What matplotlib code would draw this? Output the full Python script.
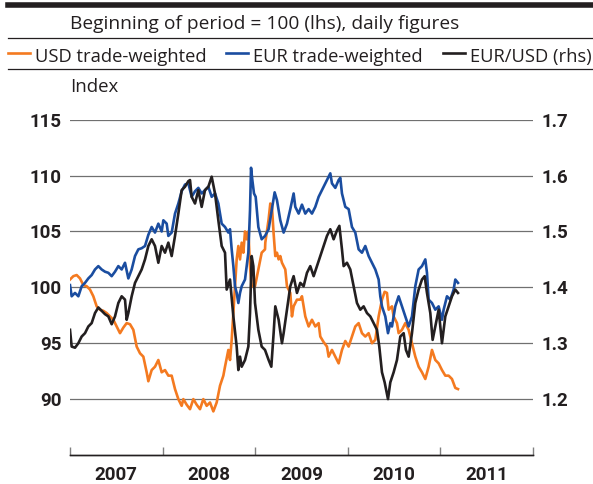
import matplotlib
matplotlib.use("Agg")
import matplotlib.pyplot as plt
from matplotlib.lines import Line2D
from matplotlib.ticker import FixedLocator, NullFormatter, FixedFormatter
import numpy as np

plt.rcParams['font.family'] = ['Roboto', 'DejaVu Sans']
HEAD_FONT = ['Open Sans', 'DejaVu Sans']

# ---- data (decimal years) ----
usd_t = [0.000, 0.036, 0.072, 0.108, 0.144, 0.180, 0.216, 0.252, 0.288, 0.324, 0.360, 0.396,
         0.432, 0.468, 0.504, 0.540, 0.576, 0.612, 0.648, 0.684, 0.720, 0.756, 0.792, 0.828,
         0.846, 0.882, 0.918, 0.954, 0.990, 1.026, 1.062, 1.098, 1.134, 1.170, 1.206, 1.224,
         1.260, 1.296, 1.332, 1.368, 1.404, 1.440, 1.476, 1.512, 1.548, 1.584, 1.620, 1.656,
         1.674, 1.710, 1.728, 1.746, 1.764, 1.782, 1.800, 1.818, 1.836, 1.854, 1.872, 1.890,
         1.908, 1.926, 1.944, 1.962, 1.998, 2.034, 2.070, 2.106, 2.109, 2.145, 2.163, 2.181,
         2.199, 2.217, 2.235, 2.253, 2.271, 2.289, 2.325, 2.343, 2.379, 2.397, 2.415, 2.451,
         2.487, 2.505, 2.541, 2.577, 2.613, 2.649, 2.685, 2.703, 2.739, 2.775, 2.793, 2.829,
         2.865, 2.901, 2.937, 2.973, 3.009, 3.045, 3.081, 3.117, 3.153, 3.189, 3.225, 3.261,
         3.297, 3.333, 3.369, 3.398, 3.423, 3.441, 3.477, 3.495, 3.531, 3.549, 3.585, 3.621,
         3.657, 3.693, 3.729, 3.765, 3.801, 3.837, 3.873, 3.909, 3.945, 3.981, 4.017, 4.053,
         4.089, 4.125, 4.161, 4.190]
usd_v = [100.7, 101.0, 101.1, 100.8, 100.2, 100.1, 99.8, 99.2, 98.3, 98.0, 97.9, 97.7,
         97.4, 97.1, 96.5, 95.9, 96.4, 96.8, 96.7, 96.2, 94.7, 94.1, 93.8, 92.4,
         91.6, 92.6, 92.9, 93.5, 92.4, 92.6, 92.1, 92.1, 90.9, 90.0, 89.4, 90.0,
         89.5, 89.1, 90.0, 89.5, 89.1, 90.0, 89.4, 89.7, 88.9, 89.7, 91.2, 92.1,
         92.9, 94.4, 93.5, 95.3, 97.7, 100.1, 102.5, 103.7, 102.5, 104.0, 103.1, 105.0,
         104.3, 105.0, 101.9, 100.1, 100.1, 101.6, 103.1, 103.4, 104.0, 106.1, 107.5, 107.2,
         104.8, 102.8, 103.1, 102.5, 102.8, 102.2, 101.6, 100.1, 99.5, 97.4, 98.3, 98.9,
         98.9, 99.2, 97.4, 96.5, 97.1, 96.5, 96.8, 95.6, 95.1, 94.7, 93.8, 94.4,
         93.8, 93.2, 94.4, 95.2, 94.7, 95.6, 96.5, 96.8, 95.9, 95.6, 95.9, 95.0,
         95.3, 97.4, 98.9, 99.6, 99.5, 98.0, 98.3, 97.4, 96.8, 95.9, 96.2, 96.8,
         96.2, 95.0, 93.8, 92.9, 92.4, 91.8, 92.9, 94.4, 93.5, 93.2, 92.6, 92.1,
         92.1, 91.8, 91.0, 90.9]

eur_t = [0.000, 0.018, 0.054, 0.090, 0.126, 0.162, 0.198, 0.234, 0.270, 0.306, 0.342, 0.378,
         0.414, 0.450, 0.486, 0.522, 0.558, 0.594, 0.630, 0.666, 0.702, 0.738, 0.774, 0.810,
         0.846, 0.882, 0.918, 0.954, 0.990, 1.008, 1.044, 1.062, 1.098, 1.134, 1.170, 1.206,
         1.242, 1.278, 1.314, 1.350, 1.386, 1.422, 1.458, 1.494, 1.530, 1.566, 1.602, 1.638,
         1.674, 1.710, 1.728, 1.746, 1.764, 1.782, 1.800, 1.818, 1.836, 1.854, 1.890, 1.908,
         1.926, 1.944, 1.955, 1.969, 1.987, 2.005, 2.034, 2.070, 2.106, 2.145, 2.181, 2.210,
         2.235, 2.271, 2.307, 2.343, 2.379, 2.415, 2.433, 2.469, 2.505, 2.541, 2.577, 2.613,
         2.649, 2.685, 2.721, 2.757, 2.793, 2.811, 2.829, 2.865, 2.901, 2.919, 2.937, 2.973,
         3.009, 3.045, 3.081, 3.117, 3.153, 3.189, 3.225, 3.261, 3.297, 3.333, 3.351, 3.369,
         3.405, 3.434, 3.459, 3.477, 3.513, 3.549, 3.585, 3.621, 3.657, 3.693, 3.729, 3.765,
         3.801, 3.837, 3.855, 3.873, 3.909, 3.945, 3.981, 4.017, 4.035, 4.071, 4.107, 4.143,
         4.161, 4.190]
eur_v = [100.2, 99.2, 99.5, 99.2, 100.1, 100.4, 100.8, 101.1, 101.6, 101.9, 101.6, 101.4,
         101.3, 101.0, 101.4, 101.9, 101.6, 102.2, 100.8, 101.6, 102.8, 103.4, 103.5, 103.7,
         104.7, 105.4, 104.9, 105.7, 105.0, 106.0, 105.7, 104.6, 104.9, 106.6, 107.5, 108.6,
         109.2, 109.3, 108.1, 108.6, 108.9, 108.4, 108.7, 109.0, 108.1, 108.4, 107.5, 105.7,
         105.4, 104.9, 105.2, 103.4, 101.9, 100.1, 99.5, 98.6, 99.5, 100.1, 100.7, 101.9,
         103.1, 106.9, 110.7, 109.6, 108.4, 108.1, 105.4, 104.3, 104.6, 105.2, 107.0, 108.5,
         107.8, 106.0, 104.9, 105.7, 107.0, 108.4, 107.2, 106.6, 107.4, 106.6, 107.0, 106.6,
         107.2, 108.1, 108.7, 109.3, 109.9, 110.2, 109.3, 108.9, 109.6, 109.8, 108.4, 107.2,
         107.0, 105.4, 104.9, 103.4, 103.1, 103.7, 102.8, 102.2, 101.6, 100.7, 99.2, 98.3,
         97.4, 95.9, 96.8, 96.5, 98.3, 99.2, 98.3, 97.4, 96.5, 97.4, 100.1, 101.6,
         101.9, 102.5, 101.3, 98.9, 98.6, 98.0, 98.3, 97.1, 98.0, 99.2, 98.9, 99.8,
         100.7, 100.4]

eurusd_t = [0.000, 0.018, 0.054, 0.090, 0.126, 0.162, 0.198, 0.234, 0.270, 0.306, 0.342, 0.378,
            0.414, 0.450, 0.486, 0.522, 0.558, 0.594, 0.612, 0.630, 0.666, 0.702, 0.738, 0.774,
            0.810, 0.846, 0.882, 0.918, 0.954, 0.990, 1.026, 1.062, 1.098, 1.134, 1.170, 1.206,
            1.242, 1.278, 1.296, 1.314, 1.350, 1.386, 1.422, 1.458, 1.494, 1.530, 1.566, 1.602,
            1.638, 1.674, 1.692, 1.728, 1.764, 1.800, 1.818, 1.836, 1.854, 1.890, 1.926, 1.944,
            1.962, 1.980, 1.998, 2.034, 2.070, 2.106, 2.145, 2.174, 2.199, 2.217, 2.253, 2.289,
            2.307, 2.343, 2.379, 2.415, 2.451, 2.487, 2.523, 2.559, 2.595, 2.631, 2.667, 2.703,
            2.739, 2.775, 2.811, 2.847, 2.883, 2.909, 2.937, 2.955, 2.991, 3.027, 3.063, 3.099,
            3.135, 3.171, 3.207, 3.243, 3.279, 3.315, 3.340, 3.369, 3.398, 3.434, 3.459, 3.495,
            3.531, 3.567, 3.603, 3.628, 3.657, 3.693, 3.729, 3.765, 3.801, 3.830, 3.855, 3.891,
            3.916, 3.945, 3.981, 4.017, 4.053, 4.089, 4.125, 4.161, 4.190]
eurusd_v = [1.324, 1.294, 1.292, 1.300, 1.312, 1.318, 1.330, 1.336, 1.354, 1.364, 1.358, 1.352,
            1.348, 1.334, 1.348, 1.372, 1.384, 1.378, 1.342, 1.354, 1.384, 1.408, 1.420, 1.432,
            1.450, 1.474, 1.486, 1.474, 1.444, 1.474, 1.462, 1.480, 1.456, 1.492, 1.532, 1.574,
            1.580, 1.590, 1.592, 1.562, 1.550, 1.574, 1.544, 1.574, 1.580, 1.598, 1.568, 1.520,
            1.474, 1.462, 1.396, 1.414, 1.348, 1.294, 1.252, 1.276, 1.258, 1.270, 1.294, 1.354,
            1.456, 1.438, 1.372, 1.324, 1.294, 1.288, 1.270, 1.258, 1.318, 1.366, 1.342, 1.300,
            1.318, 1.360, 1.402, 1.420, 1.390, 1.408, 1.402, 1.426, 1.438, 1.420, 1.438, 1.456,
            1.474, 1.492, 1.504, 1.486, 1.502, 1.510, 1.468, 1.438, 1.444, 1.432, 1.402, 1.372,
            1.360, 1.366, 1.354, 1.348, 1.336, 1.324, 1.294, 1.248, 1.230, 1.200, 1.230, 1.248,
            1.270, 1.312, 1.318, 1.288, 1.276, 1.318, 1.372, 1.396, 1.414, 1.420, 1.390, 1.354,
            1.306, 1.330, 1.360, 1.300, 1.348, 1.366, 1.384, 1.396, 1.390]

start_year = 2007
years = [2007, 2008, 2009, 2010, 2011]
lhs_ticks = [90, 95, 100, 105, 110, 115]
rhs_ticks = [1.2, 1.3, 1.4, 1.5, 1.6, 1.7]

ORANGE = '#f47a20'
BLUE = '#1a4da0'
BLACK = '#231f20'
TXT = '#231f20'
W, H = 593, 484
LW = 1.9

fig = plt.figure(figsize=(W / 100, H / 100), dpi=100)
ax = fig.add_axes([70 / W, 1 - 455 / H, 463 / W, (455 - 119.7) / H])
ax2 = ax.twinx()

ax.plot(np.array(usd_t) + start_year, usd_v, color=ORANGE, lw=LW, zorder=3)
ax.plot(np.array(eur_t) + start_year, eur_v, color=BLUE, lw=LW, zorder=3)
ax2.plot(np.array(eurusd_t) + start_year, eurusd_v, color=BLACK, lw=LW, zorder=3)

ax.set_xlim(2007, 2012)
ax.set_ylim(85, 115)
ax2.set_ylim(1.1, 1.7)

ax.set_yticks(lhs_ticks)
ax.set_yticklabels([str(v) for v in lhs_ticks])
ax2.set_yticks(rhs_ticks)
ax2.set_yticklabels([f"{v:.1f}" for v in rhs_ticks])
ax.yaxis.grid(True, color='#707070', lw=0.9)
ax.set_axisbelow(True)

for a in (ax, ax2):
    for s in ('left', 'right', 'top'):
        a.spines[s].set_visible(False)
    a.spines['bottom'].set_color(BLACK)
    a.spines['bottom'].set_linewidth(1.0)
    a.tick_params(axis='y', length=0, labelsize=13.5, labelcolor=TXT, pad=6)
for lab in ax.get_yticklabels() + ax2.get_yticklabels():
    lab.set_fontweight('bold')

# year ticks at boundaries, labels centred in each year
ax.xaxis.set_major_locator(FixedLocator([2007, 2008, 2009, 2010, 2011, 2012]))
ax.xaxis.set_major_formatter(NullFormatter())
ax.xaxis.set_minor_locator(FixedLocator([y + 0.5 for y in years]))
ax.xaxis.set_minor_formatter(FixedFormatter([str(y) for y in years]))
ax.tick_params(axis='x', which='major', direction='in', length=6, width=1, color='#808080')
ax.tick_params(axis='x', which='minor', length=0, labelsize=13.5, labelcolor=TXT, pad=8)
for lab in ax.xaxis.get_minorticklabels():
    lab.set_fontweight('bold')

# header
def hline(y, lw, color=BLACK):
    fig.add_artist(Line2D([8 / W, 1], [1 - y / H, 1 - y / H], color=color, lw=lw,
                          transform=fig.transFigure))

hline(5.3, 4.0)
hline(38.3, 0.9)
hline(69.3, 0.9)
fig.text(70 / W, 1 - 29 / H, "Beginning of period = 100 (lhs), daily figures",
         fontsize=13.8, color=TXT, va='baseline', ha='left', family=HEAD_FONT)
fig.text(70 / W, 1 - 91.7 / H, "Index", fontsize=13.4, color=TXT, va='baseline',
         ha='left', family=HEAD_FONT)

legend_items = [("USD trade-weighted", ORANGE, 8), ("EUR trade-weighted", BLUE, 226),
                ("EUR/USD (rhs)", BLACK, 443)]
for label, col, x0 in legend_items:
    fig.add_artist(Line2D([x0 / W, (x0 + 22) / W], [1 - 52.7 / H, 1 - 52.7 / H],
                          color=col, lw=LW, transform=fig.transFigure))
    fig.text((x0 + 27) / W, 1 - 62 / H, label, fontsize=13.2, color=TXT,
             va='baseline', ha='left', family=HEAD_FONT)

fig.savefig("out.png", dpi=100)
